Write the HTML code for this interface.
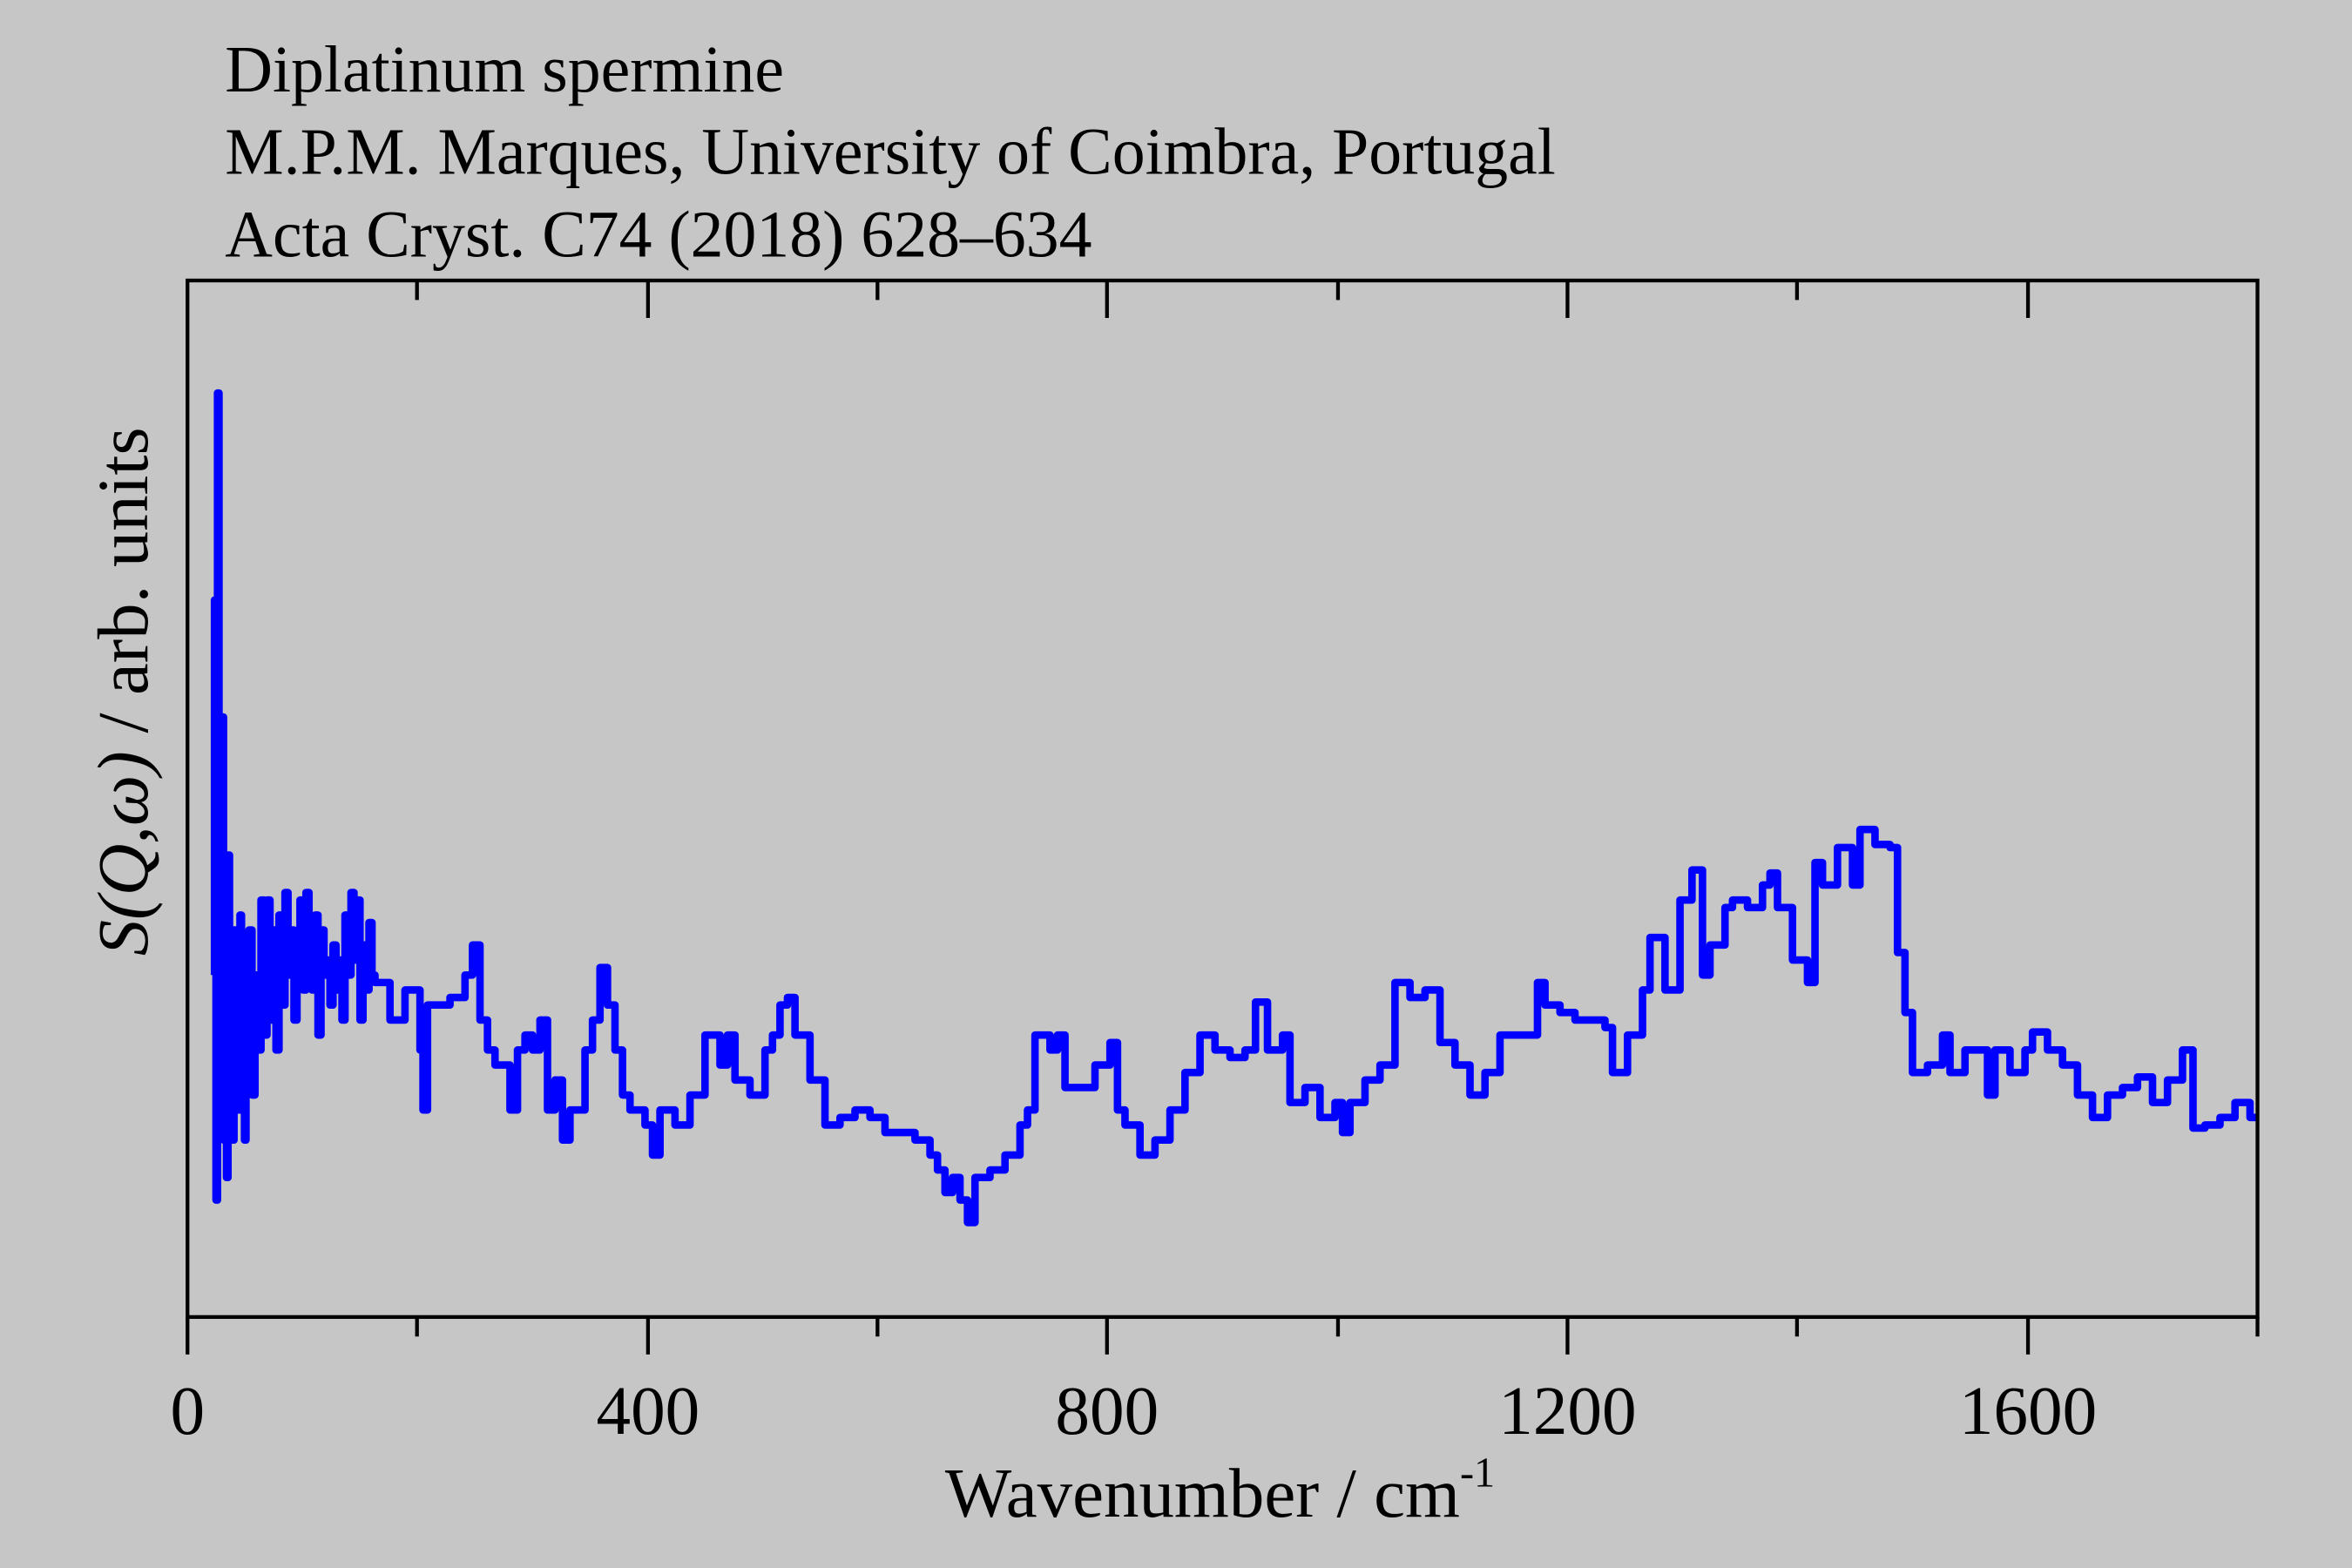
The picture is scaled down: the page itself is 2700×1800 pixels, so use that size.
<!DOCTYPE html>
<html><head><meta charset="utf-8"><style>html,body{margin:0;padding:0;background:#c6c6c6;}svg{display:block}</style></head>
<body>
<svg width="2700" height="1800" viewBox="0 0 1568 1045.33" xmlns="http://www.w3.org/2000/svg">
<rect width="1568" height="1046" fill="#c6c6c6"/>
<g font-family="Liberation Serif, serif" font-size="44" fill="#000">
<text x="150" y="61">Diplatinum spermine</text>
<text x="150" y="116">M.P.M. Marques, University of Coimbra, Portugal</text>
<text x="150" y="171">Acta Cryst. C74 (2018) 628–634</text>
<g font-size="46">
<text x="125" y="956" text-anchor="middle">0</text>
<text x="432" y="956" text-anchor="middle">400</text>
<text x="738" y="956" text-anchor="middle">800</text>
<text x="1045" y="956" text-anchor="middle">1200</text>
<text x="1352" y="956" text-anchor="middle">1600</text>
</g>
<text x="630" y="1011" font-size="47">Wavenumber / cm<tspan font-size="28" dy="-20">-1</tspan></text>
<text transform="translate(98,461) rotate(-90)" text-anchor="middle" font-size="48"><tspan font-style="italic">S(Q,ω)</tspan> / arb. units</text>
</g>
<path fill="none" stroke="#0000ff" stroke-width="5" stroke-linejoin="round" d="M143 650 V400 H144 V800 H145 V262 H146 V650 H147 V700 H148 V478 H149 V760 H150 V600 H151 V785 H152 V570 H153 V720 H154 V640 H155 V760 H156 V620 H157 V700 H158 V640 H159 V740 H160 V610 H161 V700 H162 V650 H163 V760 H164 V640 H165 V700 H166 V620 H168 V730 H170 V650 H172 V700 H174 V600 H176 V690 H178 V600 H180 V680 H182 V620 H184 V700 H186 V610 H188 V670 H190 V595 H192 V650 H194 V620 H196 V680 H198 V640 H200 V600 H202 V660 H204 V595 H206 V640 H208 V660 H210 V610 H212 V690 H214 V620 H216 V650 H218 V640 H220 V670 H222 V630 H224 V660 H226 V640 H228 V680 H230 V610 H232 V650 H234 V595 H236 V640 H238 V600 H240 V680 H242 V630 H244 V660 H246 V615 H248 V650 H250 V655 H260 V680 H270 V660 H280 V700 H282 V740 H285 V670 H300 V665 H310 V650 H315 V630 H320 V680 H325 V700 H330 V710 H340 V740 H345 V700 H350 V690 H355 V700 H360 V680 H365 V740 H370 V720 H375 V760 H380 V740 H390 V700 H395 V680 H400 V645 H405 V670 H410 V700 H415 V730 H420 V740 H430 V750 H435 V770 H440 V740 H450 V750 H460 V730 H470 V690 H480 V710 H485 V690 H490 V720 H500 V730 H510 V700 H515 V690 H520 V670 H525 V665 H530 V690 H540 V720 H550 V750 H560 V745 H570 V740 H580 V745 H590 V755 H610 V760 H620 V770 H625 V780 H630 V795 H635 V785 H640 V800 H645 V815 H650 V785 H660 V780 H670 V770 H680 V750 H685 V740 H690 V690 H700 V700 H705 V690 H710 V725 H730 V710 H740 V695 H745 V740 H750 V750 H760 V770 H770 V760 H780 V740 H790 V715 H800 V690 H810 V700 H820 V705 H830 V700 H837 V668 H845 V700 H855 V690 H860 V735 H870 V725 H880 V745 H890 V735 H895 V755 H900 V735 H910 V720 H920 V710 H930 V655 H940 V665 H950 V660 H960 V695 H970 V710 H980 V730 H990 V715 H1000 V690 H1025 V655 H1030 V670 H1040 V675 H1050 V680 H1070 V685 H1075 V715 H1085 V690 H1095 V660 H1100 V625 H1110 V660 H1120 V600 H1128 V580 H1135 V650 H1140 V630 H1150 V605 H1155 V600 H1165 V605 H1175 V590 H1180 V582 H1185 V605 H1195 V640 H1205 V655 H1210 V575 H1215 V590 H1225 V565 H1235 V590 H1240 V553 H1250 V563 H1260 V565 H1265 V635 H1270 V675 H1275 V715 H1285 V710 H1295 V690 H1300 V715 H1310 V700 H1320 V700 H1325 V730 H1330 V700 H1340 V715 H1350 V700 H1355 V688 H1365 V700 H1375 V710 H1385 V730 H1395 V745 H1405 V730 H1415 V725 H1425 V718 H1435 V735 H1445 V720 H1455 V700 H1462 V752 H1470 V750 H1480 V745 H1490 V735 H1500 V745 H1505"/>
<rect x="125" y="187" width="1380" height="691" fill="none" stroke="#000" stroke-width="2.5"/>
<g stroke="#000" stroke-width="2.5">
<path d="M125 878V903 M278 878V891 M432 878V903 M585 878V891 M738 878V903 M892 878V891 M1045 878V903 M1198 878V891 M1352 878V903 M1505 878V891"/>
<path d="M278 187V200 M432 187V212 M585 187V200 M738 187V212 M892 187V200 M1045 187V212 M1198 187V200 M1352 187V212"/>
</g>
</svg>
</body></html>
